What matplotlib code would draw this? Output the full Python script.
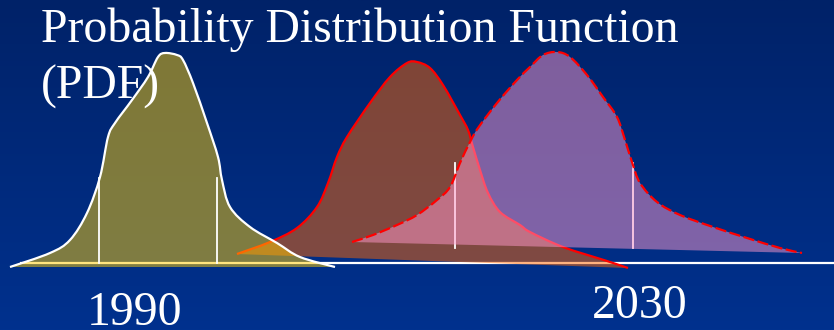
import numpy as np
import matplotlib
matplotlib.use("Agg")
import matplotlib.pyplot as plt
from matplotlib.path import Path
from matplotlib.patches import PathPatch

# Slide canvas in pixel units (x to the right, y downward)
W, H = 834, 330

# Outline of the 1990 distribution (x, y)
pdf_1990_x = [10, 50, 70, 87, 100, 108, 115, 132, 148, 158, 165, 177, 183,
              193, 207, 218, 222, 230, 250, 277, 300, 335]
pdf_1990_y = [267, 253, 240, 213, 177, 137, 123, 100, 77, 57, 53, 55, 60,
              83, 123, 157, 180, 207, 227, 243, 257, 267]

# Outline of the first future distribution (solid red edge)
pdf_a_x = [237, 270, 297, 317, 328, 337, 347, 370, 390, 407, 417, 430, 443,
           460, 468, 473, 480, 488, 500, 520, 530, 563, 607, 628]
pdf_a_y = [254, 242, 228, 207, 183, 157, 137, 103, 77, 63, 62, 68, 85,
           115, 130, 147, 170, 193, 212, 225, 232, 247, 261, 268]

# Outline of the 2030 distribution (dashed red edge)
pdf_2030_x = [352, 373, 397, 417, 437, 450, 460, 470, 478, 497, 517, 530, 543,
              557, 570, 587, 603, 617, 625, 632, 640, 657, 680, 713, 747, 780, 802]
pdf_2030_y = [242, 235, 225, 215, 200, 187, 163, 142, 128, 103, 80, 67, 55,
              52, 57, 75, 97, 117, 140, 162, 183, 202, 215, 227, 238, 248, 253]

# Interval markers (x, top, bottom)
marks_1990_x = [99, 217]
marks_1990_span = (178, 263)
marks_2030_x = [455, 633]
marks_2030_span = (163, 248)

axis_y = 263
axis_x = (20, 834)

title_lines = ["Probability Distribution Function", "(PDF)"]
year_labels = ["1990", "2030"]


def smooth_path(xs, ys, close=False):
    """Cubic Bezier path through the points (Catmull-Rom tangents)."""
    pts = np.column_stack([xs, ys]).astype(float)
    n = len(pts)
    verts = [pts[0]]
    codes = [Path.MOVETO]
    for i in range(n - 1):
        p0 = pts[i - 1] if i > 0 else pts[i]
        p1 = pts[i]
        p2 = pts[i + 1]
        p3 = pts[i + 2] if i + 2 < n else pts[i + 1]
        c1 = p1 + (p2 - p0) / 6.0
        c2 = p2 - (p3 - p1) / 6.0
        verts += [c1, c2, p2]
        codes += [Path.CURVE4] * 3
    if close:
        verts += [pts[0], pts[0]]
        codes += [Path.LINETO, Path.CLOSEPOLY]
    return Path(np.array(verts), codes)


fig = plt.figure(figsize=(W / 100, H / 100), dpi=100)
ax = fig.add_axes([0, 0, 1, 1])
ax.set_xlim(0, W)
ax.set_ylim(H, 0)
ax.axis("off")

# Navy background, slightly brighter toward the bottom
top = np.array([0, 34, 104]) / 255
bot = np.array([0, 49, 142]) / 255
t = np.linspace(0, 1, 256)[:, None, None]
grad = top + (bot - top) * t
grad = np.repeat(grad, 2, axis=1)
ax.imshow(grad, extent=[0, W, H, 0], aspect="auto", zorder=0)

# Horizontal axis
ax.plot(axis_x, [axis_y, axis_y], color="white", lw=1.6, zorder=1,
        solid_capstyle="butt")

# First future distribution (orange, semi-transparent)
ax.add_patch(PathPatch(smooth_path(pdf_a_x, pdf_a_y, close=True),
                       facecolor="#FF6600", edgecolor="none", alpha=0.5, zorder=2))
ax.add_patch(PathPatch(smooth_path(pdf_a_x, pdf_a_y), facecolor="none",
                       edgecolor="#FF0000", lw=1.6, zorder=2.1))

# 2030 interval markers, under the pink fill
for x in marks_2030_x:
    ax.plot([x, x], marks_2030_span, color="white", lw=1.3, zorder=2.5)

# 2030 distribution (pink, semi-transparent) with dashed edge
ax.add_patch(PathPatch(smooth_path(pdf_2030_x, pdf_2030_y, close=True),
                       facecolor="#FF99CC", edgecolor="none", alpha=0.5, zorder=3))
ax.add_patch(PathPatch(smooth_path(pdf_2030_x, pdf_2030_y), facecolor="none",
                       edgecolor="#FF0000", lw=1.6, linestyle=(0, (5, 1.6)),
                       zorder=3.1))

# 1990 distribution (gold, semi-transparent) with white edge
ax.add_patch(PathPatch(smooth_path(pdf_1990_x, pdf_1990_y, close=True),
                       facecolor="#FFCC00", edgecolor="none", alpha=0.5, zorder=4))
ax.add_patch(PathPatch(smooth_path(pdf_1990_x, pdf_1990_y), facecolor="none",
                       edgecolor="white", lw=1.6, zorder=4.1))
for x in marks_1990_x:
    ax.plot([x, x], marks_1990_span, color="white", lw=1.3, zorder=4.2)

# Text
font = dict(family=["Liberation Serif", "DejaVu Serif"], color="white",
            fontsize=34.4, va="baseline", ha="left", zorder=10)
ax.text(41, 42, title_lines[0], **font)
ax.text(41, 99, title_lines[1], **font)
ax.text(87, 325, year_labels[0], **font)
ax.text(592, 318, year_labels[1], **font)

fig.savefig("out.png", dpi=100)
